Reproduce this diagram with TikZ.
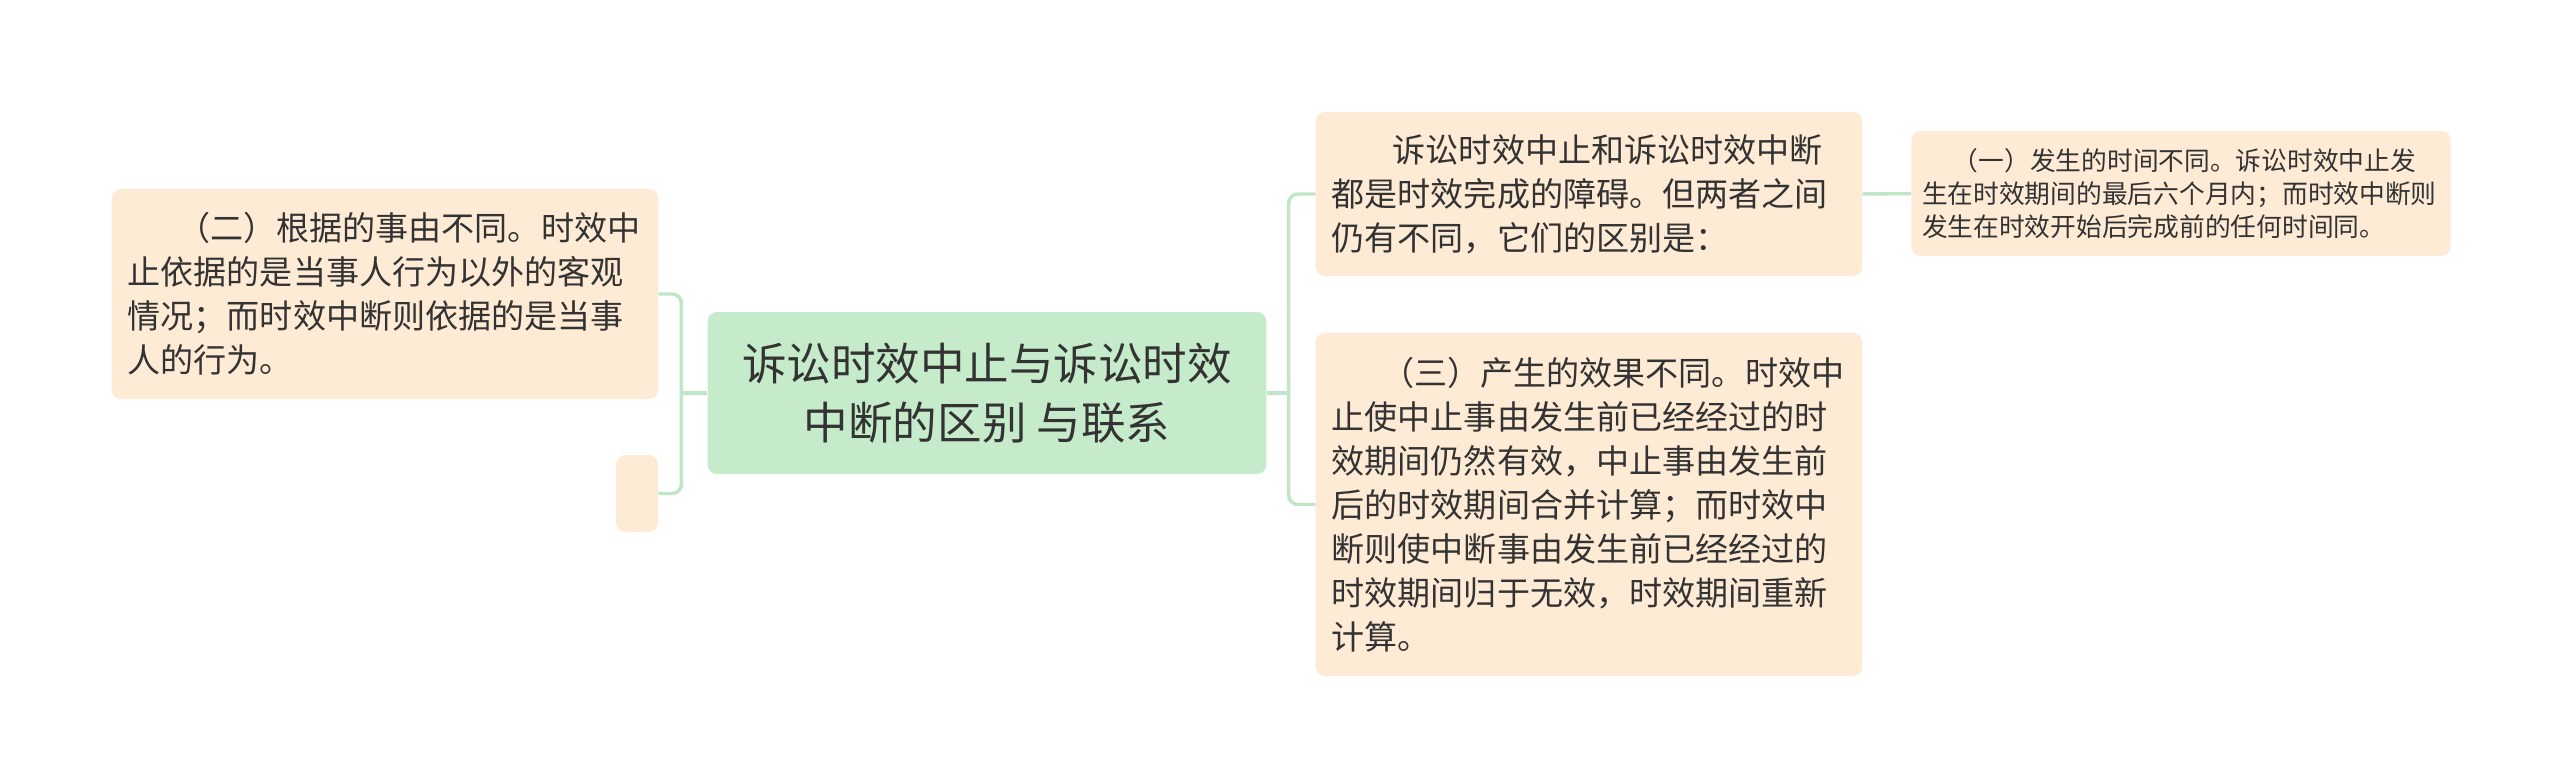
\documentclass[tikz,border=0pt]{standalone}
\usepackage{fontspec}
\setmainfont{Noto Sans CJK SC}
\usetikzlibrary{positioning}
\definecolor{rootfill}{HTML}{C6EBCB}
\definecolor{leaffill}{HTML}{FEEBD5}
\definecolor{linkcol}{HTML}{BFE6C6}
\definecolor{txt}{HTML}{333333}

\begin{document}
\begin{tikzpicture}[
  x=0.75pt, y=-0.75pt,
  root/.style={rectangle, rounded corners=7pt, fill=rootfill, text=txt, align=center, inner sep=0pt,
    minimum width=419pt, minimum height=121.5pt, font={\fontsize{33.4pt}{44pt}\selectfont}},
  leaf/.style={rectangle, rounded corners=7pt, fill=leaffill, text=txt, align=left, inner xsep=12pt, inner ysep=0pt,
    text width=386pt, minimum height=#1, font={\fontsize{24.8pt}{33pt}\selectfont}},
  smallleaf/.style={rectangle, rounded corners=7pt, fill=leaffill, text=txt, align=left, inner xsep=8pt, inner ysep=0pt,
    text width=388.5pt, minimum height=93.75pt, font={\fontsize{19.3pt}{24.75pt}\selectfont}},
  link/.style={draw=linkcol, line width=2.6pt, rounded corners=7pt}
]
\useasboundingbox (0,0) rectangle (2560,783);

% centre
\node[root] (main) at (987,393) {诉讼时效中止与诉讼时效\\中断的区别 与联系};

% left side
\node[leaf=157.5pt] (second) at (385,294) {\hspace*{1.5em}（二）根据的事由不同。时效中\\止依据的是当事人行为以外的客观\\情况；而时效中断则依据的是当事\\人的行为。};
\node[rectangle, rounded corners=7pt, fill=leaffill, minimum width=31.5pt, minimum height=57.75pt, inner sep=0pt] (blank) at (637,493.5) {};

% right side
\node[leaf=123pt] (intro) at (1589,194) {\hspace*{1.85em}诉讼时效中止和诉讼时效中断\\都是时效完成的障碍。但两者之间\\仍有不同，它们的区别是：};
\node[leaf=257.25pt] (third) at (1589,504.5) {\hspace*{1.5em}（三）产生的效果不同。时效中\\止使中止事由发生前已经经过的时\\效期间仍然有效，中止事由发生前\\后的时效期间合并计算；而时效中\\断则使中断事由发生前已经经过的\\时效期间归于无效，时效期间重新\\计算。};
\node[smallleaf] (first) at (2181,193.5) {\hspace*{1.2em}（一）发生的时间不同。诉讼时效中止发\\生在时效期间的最后六个月内；而时效中断则\\发生在时效开始后完成前的任何时间同。};

% connectors
\coordinate (lefttrunk) at ([xshift=-19.5pt]main.west);
\coordinate (righttrunk) at ([xshift=16.5pt]main.east);
\draw[link] (main.west) -- (lefttrunk);
\draw[link] (lefttrunk) |- (second.east);
\draw[link] (lefttrunk) |- (blank.east);
\draw[link] (main.east) -- (righttrunk);
\draw[link] (righttrunk) |- (intro.west);
\draw[link] (righttrunk) |- (third.west);
\draw[link] (intro.east) -- (first.west);

\end{tikzpicture}
\end{document}
